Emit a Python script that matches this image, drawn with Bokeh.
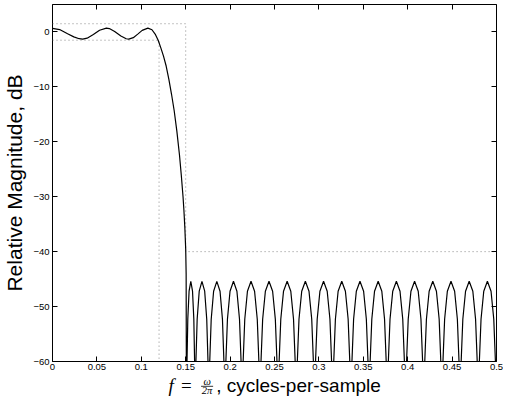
from bokeh.plotting import figure
from bokeh.layouts import column
from bokeh.models import Range1d, LinearAxis, FixedTicker
from bokeh.core.properties import value
from bokeh.embed import file_html
from bokeh.resources import INLINE

# ---------------- data ----------------
x_ticks = [0, 0.05, 0.1, 0.15, 0.2, 0.25, 0.3, 0.35, 0.4, 0.45, 0.5]
x_tick_labels = ["0", "0.05", "0.1", "0.15", "0.2", "0.25", "0.3", "0.35", "0.4", "0.45", "0.5"]
y_ticks = [-60, -50, -40, -30, -20, -10, 0]
y_tick_labels = ["\u221260", "\u221250", "\u221240", "\u221230", "\u221220", "\u221210", "0"]

# specification (dotted) lines
spec_pass_edge = 0.12
spec_stop_edge = 0.15
spec_pass_upper = 1.5
spec_pass_lower = -1.5
spec_stop_level = -40

# passband ripple
pass_f = [0.0, 0.008, 0.017, 0.024, 0.030, 0.034, 0.039, 0.046, 0.053, 0.0607,
          0.064, 0.070, 0.077, 0.083, 0.0859, 0.091, 0.096, 0.101, 0.1074]
pass_db = [0.65, 0.44, -0.33, -0.9, -1.23, -1.3, -1.13, -0.46, 0.32, 0.7,
           0.62, 0.1, -0.75, -1.24, -1.3, -1.04, -0.39, 0.29, 0.7]

# transition band
trans_f = [0.112, 0.116, 0.119, 0.122, 0.125, 0.128, 0.131, 0.134, 0.137, 0.140,
           0.143, 0.145, 0.147, 0.148, 0.149, 0.150, 0.1505, 0.1509]
trans_db = [0.4, -0.5, -1.5, -2.9, -4.4, -6.2, -8.6, -11.3, -14.3, -18.0,
            -22.4, -26.0, -30.0, -32.5, -35.5, -39.5, -44.0, -75.0]

# stopband lobes (each row: rising side, peak, falling side, null)
stop_f = [
    0.15148, 0.15236, 0.15381, 0.15575, 0.15769, 0.15915, 0.16002, 0.1606,
    0.16152, 0.16291, 0.16522, 0.16830, 0.17138, 0.17369, 0.17508, 0.1760,
    0.17709, 0.17872, 0.18143, 0.18505, 0.18867, 0.19139, 0.19301, 0.1941,
    0.19526, 0.19701, 0.19992, 0.20380, 0.20768, 0.21059, 0.21234, 0.2135,
    0.21471, 0.21652, 0.21953, 0.22355, 0.22757, 0.23059, 0.23239, 0.2336,
    0.23482, 0.23666, 0.23972, 0.24380, 0.24788, 0.25094, 0.25278, 0.2540,
    0.25523, 0.25708, 0.26015, 0.26425, 0.26835, 0.27143, 0.27327, 0.2745,
    0.27573, 0.27758, 0.28065, 0.28475, 0.28885, 0.29193, 0.29377, 0.2950,
    0.29623, 0.29808, 0.30115, 0.30525, 0.30935, 0.31243, 0.31427, 0.3155,
    0.31673, 0.31858, 0.32165, 0.32575, 0.32985, 0.33293, 0.33477, 0.3360,
    0.33723, 0.33908, 0.34215, 0.34625, 0.35035, 0.35343, 0.35527, 0.3565,
    0.35773, 0.35958, 0.36265, 0.36675, 0.37085, 0.37393, 0.37577, 0.3770,
    0.37823, 0.38008, 0.38315, 0.38725, 0.39135, 0.39443, 0.39627, 0.3975,
    0.39873, 0.40058, 0.40365, 0.40775, 0.41185, 0.41493, 0.41677, 0.4180,
    0.41923, 0.42108, 0.42415, 0.42825, 0.43235, 0.43543, 0.43727, 0.4385,
    0.43973, 0.44158, 0.44465, 0.44875, 0.45285, 0.45593, 0.45777, 0.4590,
    0.46023, 0.46208, 0.46515, 0.46925, 0.47335, 0.47643, 0.47827, 0.4795,
    0.48073, 0.48258, 0.48565, 0.48975, 0.49385, 0.49693, 0.49877, 0.5000,
]
stop_db = [
    -59.9, -52.3, -47.2, -45.4, -47.2, -52.3, -59.9, -75.0,
    -59.9, -52.3, -47.2, -45.4, -47.2, -52.3, -59.9, -75.0,
    -59.9, -52.3, -47.2, -45.4, -47.2, -52.3, -59.9, -75.0,
    -59.9, -52.3, -47.2, -45.4, -47.2, -52.3, -59.9, -75.0,
    -59.9, -52.3, -47.2, -45.4, -47.2, -52.3, -59.9, -75.0,
    -59.9, -52.3, -47.2, -45.4, -47.2, -52.3, -59.9, -75.0,
    -59.9, -52.3, -47.2, -45.4, -47.2, -52.3, -59.9, -75.0,
    -59.9, -52.3, -47.2, -45.4, -47.2, -52.3, -59.9, -75.0,
    -59.9, -52.3, -47.2, -45.4, -47.2, -52.3, -59.9, -75.0,
    -59.9, -52.3, -47.2, -45.4, -47.2, -52.3, -59.9, -75.0,
    -59.9, -52.3, -47.2, -45.4, -47.2, -52.3, -59.9, -75.0,
    -59.9, -52.3, -47.2, -45.4, -47.2, -52.3, -59.9, -75.0,
    -59.9, -52.3, -47.2, -45.4, -47.2, -52.3, -59.9, -75.0,
    -59.9, -52.3, -47.2, -45.4, -47.2, -52.3, -59.9, -75.0,
    -59.9, -52.3, -47.2, -45.4, -47.2, -52.3, -59.9, -75.0,
    -59.9, -52.3, -47.2, -45.4, -47.2, -52.3, -59.9, -75.0,
    -59.9, -52.3, -47.2, -45.4, -47.2, -52.3, -59.9, -75.0,
    -59.9, -52.3, -47.2, -45.4, -47.2, -52.3, -59.9, -75.0,
]

# x-axis label pieces:  f = omega/(2 pi), cycles-per-sample
xlab_f_text = ["f"]
xlab_eq_text = ["="]
xlab_num_text = ["\u03c9"]
xlab_den_text = ["2\u03c0"]
xlab_rest_text = [", cycles-per-sample"]
# horizontal anchors, in axis units (f)
xlab_f_x = [0.1306]
xlab_eq_x = [0.1446]
xlab_frac_x = [0.1741]
xlab_bar_x0 = [0.1673]
xlab_bar_x1 = [0.1809]
xlab_rest_x = [0.1843]

x_range = (0, 0.5)
y_range = (-60, 5)

W = 503
L_BORDER = 52
R_BORDER = 7
MAIN_H = 374
STRIP_H = 22
FONT = "Liberation Sans"
SERIF = "Liberation Serif"

# ---------------- main figure ----------------
p = figure(width=W, height=MAIN_H,
           x_range=Range1d(*x_range), y_range=Range1d(*y_range),
           output_backend="svg", toolbar_location=None,
           min_border_left=L_BORDER, min_border_right=R_BORDER,
           min_border_top=4, min_border_bottom=13)
p.background_fill_color = "white"
p.border_fill_color = "white"
p.outline_line_color = "black"
p.outline_line_width = 1
p.outline_line_alpha = 1
p.xgrid.visible = False
p.ygrid.visible = False


def style_axis(ax, ticks, labels, show_labels, standoff=3):
    ax.ticker = FixedTicker(ticks=ticks)
    if show_labels:
        ax.major_label_overrides = {t: l for t, l in zip(ticks, labels)}
    else:
        ax.major_label_overrides = {t: "" for t in ticks}
    ax.major_tick_in = 5
    ax.major_tick_out = 0
    ax.major_tick_line_color = "black"
    ax.major_tick_line_width = 1
    ax.minor_tick_line_color = None
    ax.axis_line_color = None
    ax.major_label_text_font = FONT
    ax.major_label_text_font_size = "9.5px"
    ax.major_label_text_color = "black"
    ax.major_label_standoff = standoff if show_labels else 0


xb = p.below[0]
yl = p.left[0]
style_axis(xb, x_ticks, x_tick_labels, True, standoff=2)
style_axis(yl, y_ticks, y_tick_labels, True, standoff=3)
yl.axis_label = "Relative Magnitude, dB"
yl.axis_label_text_font = FONT
yl.axis_label_text_font_size = "21px"
yl.axis_label_text_font_style = "normal"
yl.axis_label_text_color = "black"
yl.axis_label_standoff = 4

xt = LinearAxis()
style_axis(xt, x_ticks, x_tick_labels, False)
p.add_layout(xt, "above")
yr = LinearAxis()
style_axis(yr, y_ticks, y_tick_labels, False)
p.add_layout(yr, "right")

# spec lines (dotted)
spec_color = "#8a8a8a"
p.line([x_range[0], spec_stop_edge, spec_stop_edge, x_range[1]],
       [spec_pass_upper, spec_pass_upper, spec_stop_level, spec_stop_level],
       line_color=spec_color, line_dash="1 3", line_width=1)
p.line([x_range[0], spec_pass_edge, spec_pass_edge],
       [spec_pass_lower, spec_pass_lower, y_range[0]],
       line_color=spec_color, line_dash="1 3", line_width=1)

# magnitude response
f_all = pass_f + trans_f + stop_f
db_all = pass_db + trans_db + stop_db
p.line(f_all, db_all, line_color="black", line_width=1.2)

# ---------------- x-axis label strip ----------------
q = figure(width=W, height=STRIP_H, x_range=p.x_range, y_range=Range1d(0, STRIP_H),
           output_backend="svg", toolbar_location=None,
           x_axis_type=None, y_axis_type=None,
           min_border_left=L_BORDER, min_border_right=R_BORDER,
           min_border_top=0, min_border_bottom=0)
q.outline_line_color = None
q.background_fill_color = "white"
q.border_fill_color = "white"
q.xgrid.visible = False
q.ygrid.visible = False

# text is anchored at its vertical middle
q.text(x=xlab_f_x, y=[11.1], text=xlab_f_text, text_font=value(SERIF),
       text_font_style="italic", text_font_size=value("19px"),
       text_align="left", text_baseline="middle", text_color="black")
q.text(x=xlab_eq_x, y=[11.1], text=xlab_eq_text, text_font=value(SERIF),
       text_font_size=value("19px"),
       text_align="left", text_baseline="middle", text_color="black")
q.text(x=xlab_frac_x, y=[15.3], text=xlab_num_text, text_font=value(SERIF),
       text_font_style="italic", text_font_size=value("10.5px"),
       text_align="center", text_baseline="middle", text_color="black")
q.segment(x0=xlab_bar_x0, y0=[10.2], x1=xlab_bar_x1, y1=[10.2],
          line_color="black", line_width=0.8)
q.text(x=xlab_frac_x, y=[6.3], text=xlab_den_text, text_font=value(SERIF),
       text_font_style="italic", text_font_size=value("10.5px"),
       text_align="center", text_baseline="middle", text_color="black")
q.text(x=xlab_rest_x, y=[11.1], text=xlab_rest_text, text_font=value(FONT),
       text_font_size=value("19px"),
       text_align="left", text_baseline="middle", text_color="black")

layout = column(p, q, spacing=0)
open("out.html", "w").write(file_html(layout, INLINE))
